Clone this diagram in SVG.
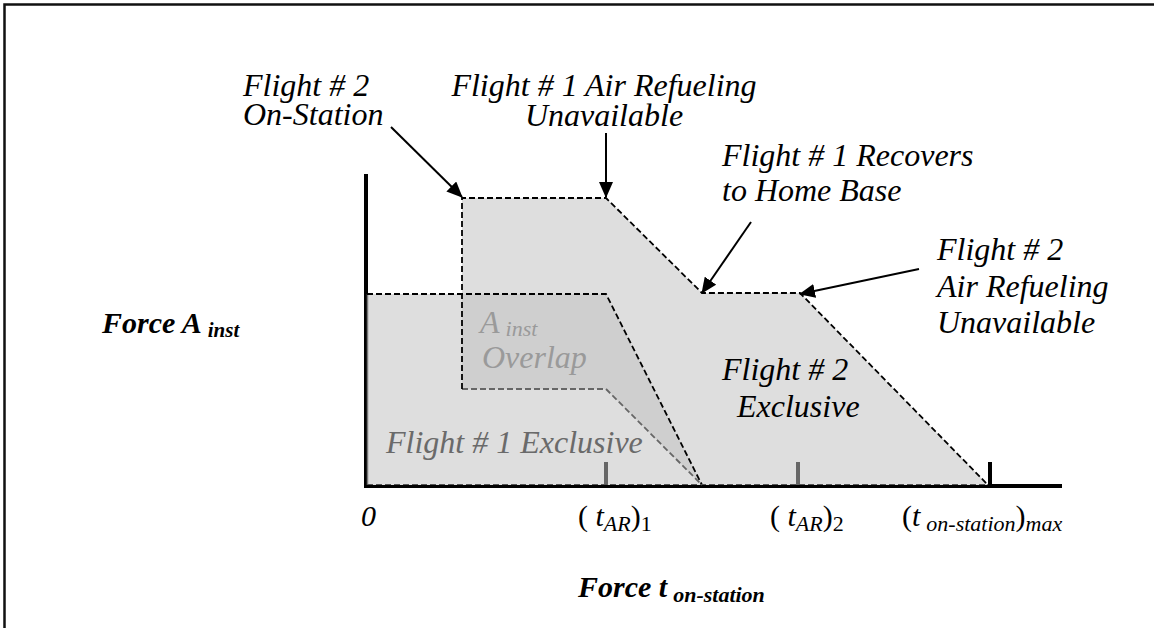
<svg xmlns="http://www.w3.org/2000/svg" width="1154" height="628" viewBox="0 0 1154 628">
<style>
text{font-family:'Liberation Serif','Times New Roman',Times,serif;font-style:italic;font-size:32px;fill:#000}
.ax{font-size:30px}
.sub{font-size:22px}
.up{font-style:normal}
.bold{font-weight:bold;font-size:30px}
.dash{fill:none;stroke:#000;stroke-width:1.8;stroke-dasharray:6 3}
.gdash{fill:none;stroke:#666;stroke-width:1.8;stroke-dasharray:6 3}
.arr{fill:none;stroke:#000;stroke-width:2;marker-end:url(#ah)}
</style>
<defs>
<marker id="ah" markerWidth="16" markerHeight="14" refX="15" refY="7" orient="auto" markerUnits="userSpaceOnUse">
<path d="M0,0 L16,7 L0,14 z" fill="#000"/>
</marker>
</defs>
<rect width="1154" height="628" fill="#fff"/>
<path d="M4.5,628 V4.5 H1154" fill="none" stroke="#111" stroke-width="2.5"/>

<g id="axes">
<line x1="366" y1="174" x2="366" y2="488" stroke="#000" stroke-width="4"/>
<line x1="364" y1="486" x2="1062" y2="486" stroke="#000" stroke-width="4"/>
</g>

<g id="flight2-region">
<polygon points="462,389 462,198 606,198 702,293 800,293 988,485 702,485 606,389" fill="#dedede"/>
</g>
<g id="flight1-region">
<polygon points="367,294 606,294 702,485 367,485" fill="#dedede"/>
<line x1="367.5" y1="294" x2="367.5" y2="485" stroke="#777" stroke-width="1.5"/>
</g>
<g id="overlap-region">
<polygon points="462,294 606,294 702,485 606,389 462,389" fill="#cfcfcf"/>
</g>

<g id="ticks">
<line x1="606" y1="462" x2="606" y2="485" stroke="#666" stroke-width="4"/>
<line x1="798" y1="462" x2="798" y2="485" stroke="#666" stroke-width="4"/>
<line x1="990" y1="462" x2="990" y2="486" stroke="#000" stroke-width="4"/>
</g>

<g id="outlines">
<polyline class="gdash" points="462,389 606,389 702,485"/>
<polyline class="dash" points="462,389 462,198 606,198 702,293 800,293 988,485"/>
<polyline class="dash" points="367,294 606,294 702,485"/>
<line x1="367" y1="484.5" x2="988" y2="484.5" stroke="#555" stroke-width="1" stroke-dasharray="6 3"/>
</g>

<g id="connectors">
<line class="arr" x1="391" y1="127" x2="462" y2="197"/>
<line class="arr" x1="606" y1="133" x2="606" y2="197"/>
<line class="arr" x1="751" y1="222" x2="702" y2="293"/>
<line class="arr" x1="919" y1="269" x2="800" y2="294"/>
</g>

<g id="label-f2-onstation">
<text x="243" y="96">Flight # 2</text>
<text x="243" y="125">On-Station</text>
</g>
<g id="label-f1-ar">
<text x="604" y="96" text-anchor="middle">Flight # 1 Air Refueling</text>
<text x="604" y="126" text-anchor="middle">Unavailable</text>
</g>
<g id="label-f1-recovers">
<text x="722" y="166">Flight # 1 Recovers</text>
<text x="722" y="201">to Home Base</text>
</g>
<g id="label-f2-ar">
<text x="937" y="260">Flight # 2</text>
<text x="937" y="297">Air Refueling</text>
<text x="937" y="333">Unavailable</text>
</g>
<g id="label-f2-exclusive">
<text x="722" y="380">Flight # 2</text>
<text x="737" y="417">Exclusive</text>
</g>
<g id="label-overlap">
<text x="480" y="333" style="fill:#9a9a9a">A<tspan class="sub" dx="6" dy="3">inst</tspan></text>
<text x="482" y="368" style="fill:#9a9a9a">Overlap</text>
</g>
<g id="label-f1-exclusive">
<text x="386" y="453" style="fill:#6a6a6a">Flight # 1 Exclusive</text>
</g>

<g id="y-axis-title">
<text class="bold" x="102" y="333">Force A<tspan style="font-size:21px" dx="6" dy="4">inst</tspan></text>
</g>
<g id="x-axis-labels">
<text class="ax" x="361" y="526">0</text>
<text class="ax" x="578" y="526"><tspan class="up">(</tspan> t<tspan class="sub" dy="5">AR</tspan><tspan class="up" dy="-5">)</tspan><tspan class="sub up" dy="5">1</tspan></text>
<text class="ax" x="770" y="526"><tspan class="up">(</tspan> t<tspan class="sub" dy="5">AR</tspan><tspan class="up" dy="-5">)</tspan><tspan class="sub up" dy="5">2</tspan></text>
<text class="ax" x="902" y="526"><tspan class="up">(</tspan>t<tspan class="sub" dx="6" dy="5">on-station</tspan><tspan class="up" dy="-5">)</tspan><tspan class="sub" dy="5">max</tspan></text>
</g>
<g id="x-axis-title">
<text class="bold" x="578" y="597">Force t<tspan style="font-size:22px" dx="6" dy="5">on-station</tspan></text>
</g>
</svg>
